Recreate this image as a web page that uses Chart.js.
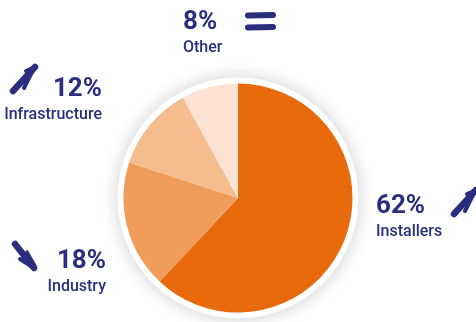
<!DOCTYPE html>
<html>
<head>
<meta charset="utf-8">
<script src="https://cdn.jsdelivr.net/npm/chart.js@4/dist/chart.umd.min.js"></script>
<style>
  html, body { margin: 0; padding: 0; background: #ffffff; }
  #wrap { width: 476px; height: 322px; position: relative; }
</style>
</head>
<body>
<div id="wrap"><canvas id="chart" width="476" height="322"></canvas></div>
<script>
// Market share by customer segment
const segments = ['Installers', 'Industry', 'Infrastructure', 'Other'];
const shares = [62, 18, 12, 8];
const trends = ['up', 'down', 'up', 'flat'];
const sliceColors = ['#E86A0C', '#F09D5B', '#F5BC8D', '#FCE3D3'];

const NAVY = '#2B2E7E';

// Where each segment's callout sits: text anchor, alignment and trend icon origin
const callouts = {
  Installers:     { x: 376, y: 213, align: 'left',  icon: [451, 187] },
  Industry:       { x: 106, y: 268, align: 'right', icon: [10, 240] },
  Infrastructure: { x: 102, y: 96,  align: 'right', icon: [10, 64] },
  Other:          { x: 183, y: 29,  align: 'left',  icon: [245, 12] }
};

function stroke(ctx, pts, w) {
  ctx.lineWidth = w;
  ctx.beginPath();
  ctx.moveTo(pts[0][0], pts[0][1]);
  for (let i = 1; i < pts.length; i++) ctx.lineTo(pts[i][0], pts[i][1]);
  ctx.stroke();
}

// Brush-style trend marks, drawn relative to an origin
function drawTrend(ctx, kind, ox, oy) {
  ctx.save();
  ctx.translate(ox, oy);
  ctx.strokeStyle = NAVY;
  ctx.fillStyle = NAVY;
  ctx.lineCap = 'round';
  ctx.lineJoin = 'round';
  if (kind === 'up') {
    stroke(ctx, [[3, 27], [25, 3]], 6.5);
    stroke(ctx, [[24, 4], [14, 24]], 4);
    stroke(ctx, [[25, 3], [16, 7]], 4);
  } else if (kind === 'down') {
    stroke(ctx, [[5, 4], [24, 28]], 6.5);
    stroke(ctx, [[10, 19], [24, 28]], 4);
    stroke(ctx, [[17, 12], [25, 26]], 3.5);
  } else {
    stroke(ctx, [[3, 3.5], [28, 3]], 6);
    stroke(ctx, [[3, 15.5], [28, 15]], 6);
  }
  ctx.restore();
}

// White rim with a soft drop shadow behind the pie
const rimPlugin = {
  id: 'rim',
  beforeDatasetsDraw(chart) {
    const arc = chart.getDatasetMeta(0).data[0];
    if (!arc) return;
    const { x, y, outerRadius } = arc.getProps(['x', 'y', 'outerRadius'], true);
    const ctx = chart.ctx;
    ctx.save();
    ctx.shadowColor = 'rgba(0,0,0,0.20)';
    ctx.shadowBlur = 18;
    ctx.fillStyle = '#ffffff';
    ctx.beginPath();
    ctx.arc(x, y, outerRadius + 6, 0, Math.PI * 2);
    ctx.fill();
    ctx.restore();
  }
};

// Percentage and segment name beside each slice
const calloutPlugin = {
  id: 'callouts',
  afterDraw(chart) {
    const ctx = chart.ctx;
    const values = chart.data.datasets[0].data;
    chart.data.labels.forEach((name, i) => {
      const c = callouts[name];
      ctx.save();
      ctx.fillStyle = NAVY;
      ctx.textAlign = c.align;
      ctx.textBaseline = 'alphabetic';
      ctx.font = 'bold 26px Roboto';
      ctx.fillText(values[i] + '%', c.x, c.y);
      ctx.font = '500 16px Roboto';
      ctx.fillText(name, c.x, c.y + 23);
      ctx.restore();
      drawTrend(ctx, trends[i], c.icon[0], c.icon[1]);
    });
  }
};

new Chart(document.getElementById('chart'), {
  type: 'pie',
  data: {
    labels: segments,
    datasets: [{
      data: shares,
      backgroundColor: sliceColors,
      borderWidth: 0,
      hoverOffset: 0,
      offset: 0
    }]
  },
  options: {
    responsive: false,
    animation: false,
    rotation: 0,
    layout: { padding: { top: 83.5, bottom: 9.5, left: 100, right: 100 } },
    plugins: {
      legend: { display: false },
      tooltip: { enabled: false }
    }
  },
  plugins: [rimPlugin, calloutPlugin]
});
</script>
</body>
</html>
